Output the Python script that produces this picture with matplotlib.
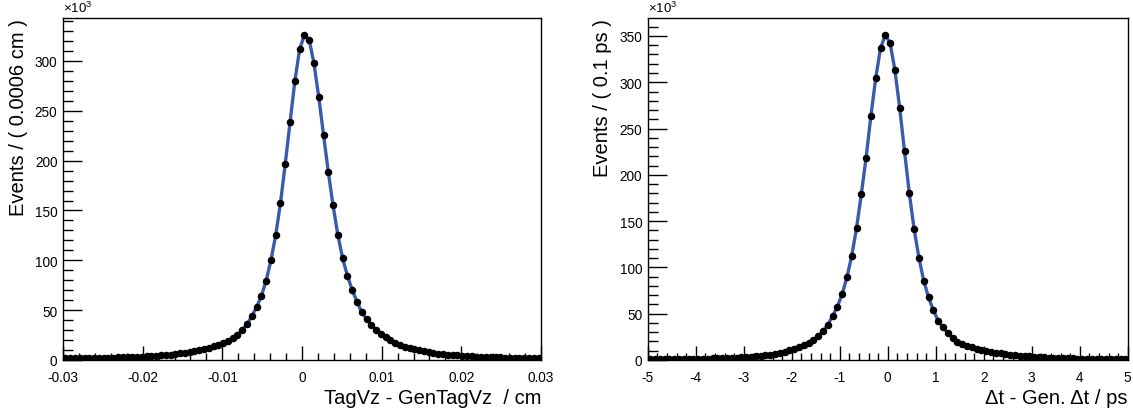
import numpy as np
import matplotlib
matplotlib.use("Agg")
import matplotlib.pyplot as plt
from matplotlib.ticker import MultipleLocator

plt.rcParams['font.family'] = ['Liberation Sans', 'DejaVu Sans']
plt.rcParams['mathtext.fontset'] = 'custom'
plt.rcParams['mathtext.rm'] = 'Liberation Sans'
plt.rcParams['mathtext.it'] = 'Liberation Sans:italic'

# ---- Left panel: TagVz - GenTagVz (cm), 100 bins of 0.0006 cm, values in 10^3 events
vz_lo, vz_hi, vz_nbins = -0.03, 0.03, 100
vz_counts = [
    1.75, 1.8, 1.85, 1.9, 1.95, 2.0, 2.1, 2.2, 2.3, 2.4,
    2.5, 2.6, 2.75, 2.9, 3.1, 3.3, 3.5, 3.7, 4.0, 4.3,
    4.6, 5.0, 5.5, 6.0, 6.6, 7.3, 8.0, 8.9, 9.9, 11.0,
    12.3, 13.8, 15.5, 17.5, 19.5, 22.0, 25.4, 30.0, 36.0, 44.0,
    53.0, 64.5, 79.5, 100.0, 125.4, 157.5, 197.0, 238.5, 279.5, 311.6,
    326.0, 321.3, 297.6, 264.1, 226.0, 188.6, 155.0, 125.4, 102.0, 84.5,
    70.2, 58.5, 47.8, 41.1, 35.1, 30.4, 26.5, 23.0, 20.0, 17.5,
    15.3, 13.5, 12.0, 10.7, 9.6, 8.6, 7.8, 7.1, 6.5, 5.9,
    5.4, 5.0, 4.6, 4.3, 4.0, 3.7, 3.5, 3.3, 3.1, 2.9,
    2.75, 2.6, 2.5, 2.4, 2.3, 2.2, 2.1, 2.0, 1.95, 1.9,
]

# ---- Right panel: Delta t - Gen. Delta t (ps), 100 bins of 0.1 ps, values in 10^3 events
dt_lo, dt_hi, dt_nbins = -5.0, 5.0, 100
dt_counts = [
    0.8, 0.85, 0.9, 0.95, 1.0, 1.05, 1.1, 1.15, 1.2, 1.3,
    1.4, 1.5, 1.6, 1.7, 1.85, 2.0, 2.2, 2.4, 2.6, 2.9,
    3.2, 3.6, 4.0, 4.5, 5.1, 5.8, 6.7, 7.7, 8.9, 10.3,
    12.0, 13.9, 16.0, 18.5, 21.6, 25.6, 31.0, 38.1, 47.2, 57.6,
    71.0, 89.3, 112.3, 142.2, 179.0, 218.5, 263.6, 304.3, 336.7, 351.1,
    342.4, 313.0, 272.2, 225.5, 180.4, 141.5, 110.5, 85.7, 67.7, 54.0,
    42.5, 35.3, 29.2, 24.1, 19.0, 17.0, 15.2, 13.6, 12.2, 11.0,
    9.9, 8.9, 8.0, 7.2, 6.5, 5.9, 5.3, 4.8, 4.3, 3.9,
    3.5, 3.2, 2.9, 2.6, 2.4, 2.2, 2.0, 1.85, 1.7, 1.55,
    1.45, 1.35, 1.25, 1.15, 1.1, 1.05, 1.0, 0.95, 0.9, 0.85,
]

vz_title_x = "TagVz - GenTagVz  / cm"
vz_title_y = "Events / ( 0.0006 cm )"
dt_title_x = "\u0394t - Gen. \u0394t / ps"
dt_title_y = "Events / ( 0.1 ps )"

W, H = 1133, 410
fig = plt.figure(figsize=(W / 100, H / 100), dpi=100)

fit_color = '#3a5bab'


def panel(rect, lo, hi, nbins, counts, ymax, xmaj, xmin, xtitle, ytitle, xfmt):
    ax = fig.add_axes(rect)
    width = (hi - lo) / nbins
    centers = lo + width * (np.arange(nbins) + 0.5)
    vals = np.asarray(counts)
    ax.plot(centers, vals, color=fit_color, lw=2.4, zorder=2)
    ax.plot(centers, vals, 'o', color='black', ms=4.4, zorder=3)
    ax.set_xlim(lo, hi)
    ax.set_ylim(0, ymax)
    ax.xaxis.set_major_locator(MultipleLocator(xmaj))
    ax.xaxis.set_minor_locator(MultipleLocator(xmin))
    ax.yaxis.set_major_locator(MultipleLocator(50))
    ax.yaxis.set_minor_locator(MultipleLocator(10))
    ax.tick_params(which='both', direction='in', top=False, right=False,
                   labelsize=9.8, width=1.0, color='black')
    ax.tick_params(axis='x', which='major', length=10, pad=7)
    ax.tick_params(axis='x', which='minor', length=5)
    ax.tick_params(axis='y', which='major', length=14, pad=4)
    ax.tick_params(axis='y', which='minor', length=7)
    ax.xaxis.set_major_formatter(plt.FuncFormatter(xfmt))
    ax.yaxis.set_major_formatter(plt.FuncFormatter(lambda v, p: f"{v:g}"))
    for s in ax.spines.values():
        s.set_linewidth(1.0)
    ax.set_xlabel(xtitle, loc='right', fontsize=14.5, labelpad=3)
    ax.set_ylabel(ytitle, loc='top', fontsize=14.5, labelpad=5)
    ax.text(0.0, 1.01, r'$\times10^{3}$', transform=ax.transAxes,
            fontsize=9.5, ha='left', va='bottom')
    return ax


def fmt_vz(v, p):
    if abs(v) < 1e-9:
        return "0"
    return f"{v:.2f}"


def fmt_dt(v, p):
    return f"{v:g}"


bottom = (H - 361) / H
height = (361 - 19) / H
panel([63 / W, bottom, (541 - 63) / W, height], vz_lo, vz_hi, vz_nbins, vz_counts,
      343.1, 0.01, 0.002, vz_title_x, vz_title_y, fmt_vz)
panel([647.7 / W, bottom, (1127.7 - 647.7) / W, height], dt_lo, dt_hi, dt_nbins, dt_counts,
      369.4, 1, 0.2, dt_title_x, dt_title_y, fmt_dt)

fig.savefig("out.png", dpi=100)
